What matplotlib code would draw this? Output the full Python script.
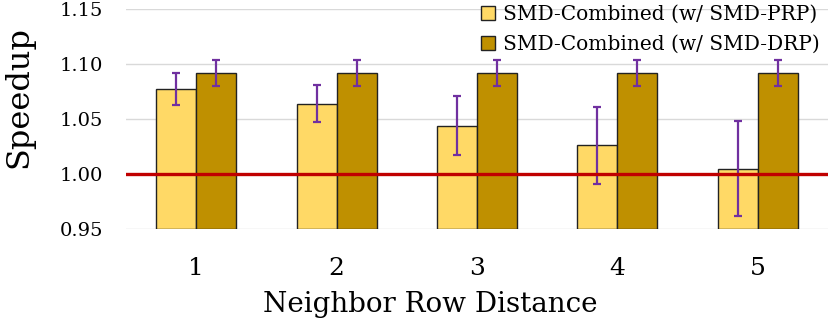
import matplotlib
matplotlib.use("Agg")
import matplotlib.pyplot as plt
import numpy as np

categories = ["1", "2", "3", "4", "5"]
prp_values = [1.077, 1.064, 1.044, 1.026, 1.005]
prp_err = [0.0145, 0.017, 0.0265, 0.035, 0.043]
drp_values = [1.092, 1.092, 1.092, 1.092, 1.092]
drp_err = [0.0116, 0.0116, 0.0116, 0.0116, 0.0116]
series_labels = ["SMD-Combined (w/ SMD-PRP)", "SMD-Combined (w/ SMD-DRP)"]
yticks = [0.95, 1.00, 1.05, 1.10, 1.15]

plt.rcParams['font.family'] = ['DejaVu Serif']

fig = plt.figure(figsize=(8.3, 3.28), dpi=100)
ax = fig.add_axes([126/830, 1-229/328, 702/830, 220/328])

x = np.arange(len(categories))
w = 0.285
err_kw = dict(ecolor="#7030A0", elinewidth=1.6, capsize=3, capthick=1.6)
ax.bar(x - w/2, np.array(prp_values) - 0.95, w, bottom=0.95, color="#FFD966",
       edgecolor="#222222", linewidth=1.0, yerr=prp_err, error_kw=err_kw,
       label=series_labels[0], zorder=2)
ax.bar(x + w/2, np.array(drp_values) - 0.95, w, bottom=0.95, color="#BF9000",
       edgecolor="#222222", linewidth=1.0, yerr=drp_err, error_kw=err_kw,
       label=series_labels[1], zorder=2)
ax.axhline(1.0, color="#C00000", linewidth=2.4, zorder=3)

ax.set_xlim(-0.5, 4.5)
ax.set_ylim(0.95, 1.15)
ax.set_yticks(yticks)
ax.set_yticklabels([f"{v:.2f}" for v in yticks], fontsize=14)
ax.set_xticks(x)
ax.set_xticklabels(categories, fontsize=18)
ax.yaxis.grid(True, color="#D9D9D9", linewidth=1.0, zorder=0)
ax.set_axisbelow(True)
for s in ax.spines.values():
    s.set_visible(False)
ax.tick_params(axis="both", length=0)
ax.tick_params(axis="y", pad=16.5)
ax.tick_params(axis="x", pad=20)
ax.set_ylabel("Speedup", fontsize=23)
ax.yaxis.set_label_coords(-0.152, 0.6)
ax.set_xlabel("Neighbor Row Distance", fontsize=20)
ax.xaxis.set_label_coords(0.434, -0.345)
ax.xaxis.label.set_va("center")
ax.yaxis.label.set_va("center")

leg = ax.legend(loc="upper right", bbox_to_anchor=(1.0, 1.055), frameon=False,
                fontsize=14.5, handlelength=0.7, handleheight=0.7, handletextpad=0.4,
                labelspacing=0.55, borderaxespad=0.0)

fig.savefig("out.png", dpi=100)
